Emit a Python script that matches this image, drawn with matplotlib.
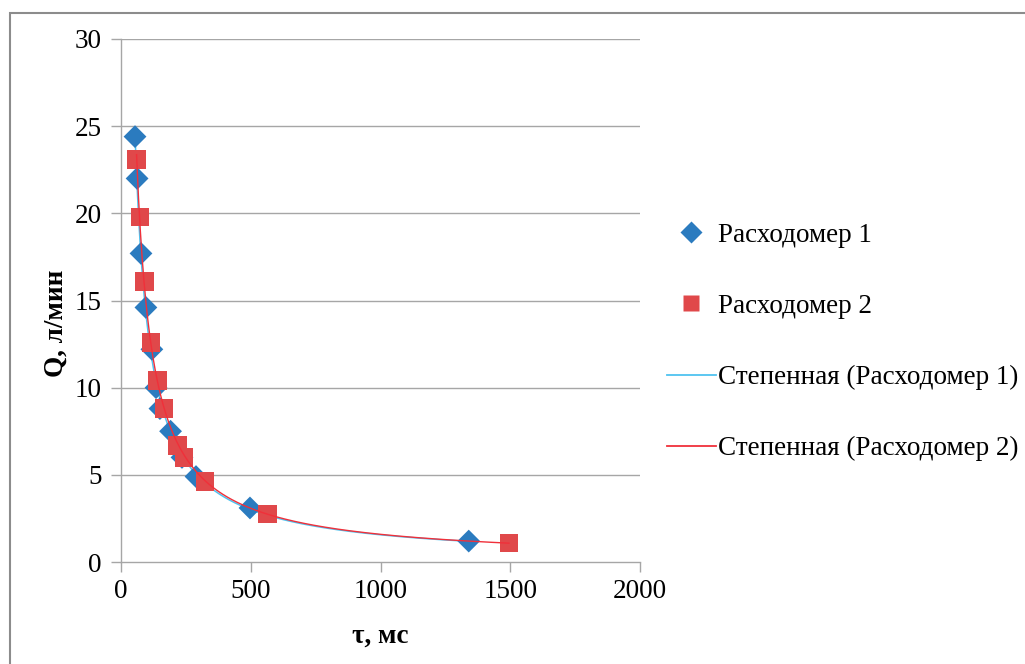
import numpy as np
import matplotlib
matplotlib.use("Agg")
import matplotlib.pyplot as plt
from matplotlib.lines import Line2D
from matplotlib.patches import Rectangle

plt.rcParams["font.family"] = ["Liberation Serif", "DejaVu Serif"]

# ── data ──
tau_1 = [54, 62, 77, 96, 119, 135, 150, 191, 235, 289, 497, 1340]
q_1 = [24.4, 22.0, 17.7, 14.6, 12.2, 10.0, 8.8, 7.5, 6.0, 4.9, 3.1, 1.2]
tau_2 = [60, 73, 90, 116, 140, 166, 217, 243, 324, 565, 1495]
q_2 = [23.1, 19.8, 16.1, 12.6, 10.4, 8.8, 6.7, 6.0, 4.6, 2.75, 1.1]

labels = ["Расходомер 1", "Расходомер 2",
          "Степенная (Расходомер 1)", "Степенная (Расходомер 2)"]
x_ticks = [0, 500, 1000, 1500, 2000]
y_ticks = [0, 5, 10, 15, 20, 25, 30]

BLUE = "#2b7bbf"
RED = "#e0484a"
TREND_BLUE = "#4fc3f0"
TREND_RED = "#f0303a"
GRID = "#a6a6a6"
FS = 19.5


def power_fit(x, y):
    # Excel-style power trendline: least squares in log-log space
    b, ln_a = np.polyfit(np.log(x), np.log(y), 1)
    xs = np.linspace(min(x), max(x), 400)
    return xs, np.exp(ln_a) * xs ** b


fig = plt.figure(figsize=(10.25, 6.64), dpi=100)
ax = fig.add_axes([121 / 1025, 1 - 562 / 664, 519 / 1025, 523 / 664])

# frame around the chart area (top + left visible in the reference)
fig.add_artist(Rectangle((10 / 1025, -0.05), 1.2, 1 - 12.5 / 664 + 0.05,
                         transform=fig.transFigure, fill=False,
                         edgecolor="#8c8c8c", lw=1.5))

for yv in y_ticks[1:]:
    ax.axhline(yv, color=GRID, lw=1.0, zorder=0)

xs1, ys1 = power_fit(tau_1, q_1)
xs2, ys2 = power_fit(tau_2, q_2)
ax.plot(xs1, ys1, color=TREND_BLUE, lw=1.1, zorder=2)
ax.plot(xs2, ys2, color=TREND_RED, lw=1.0, zorder=4)

ax.scatter(tau_1, q_1, marker="D", s=135, color=BLUE, edgecolors="none", zorder=3)
ax.scatter(tau_2, q_2, marker="s", s=180, color=RED, edgecolors="none", zorder=3)

ax.set_xlim(0, 2000)
ax.set_ylim(0, 30)
ax.set_xticks(x_ticks)
ax.set_yticks(y_ticks)
ax.tick_params(axis="both", labelsize=FS, color=GRID, length=7, width=1,
               direction="out", pad=5)
ax.tick_params(axis="y", pad=7)
for sp in ("top", "right"):
    ax.spines[sp].set_visible(False)
for sp in ("left", "bottom"):
    ax.spines[sp].set_color(GRID)
    ax.spines[sp].set_linewidth(1.0)

ax.set_xlabel("τ, мс", fontsize=FS, fontweight="bold")
ax.set_ylabel("Q, л/мин", fontsize=FS, fontweight="bold")
ax.xaxis.set_label_coords(0.5, -0.118)
ax.yaxis.set_label_coords(-0.1, 0.457)

handles = [
    Line2D([], [], ls="none", marker="D", ms=11, color=BLUE, mec="none"),
    Line2D([], [], ls="none", marker="s", ms=11.5, color=RED, mec="none"),
    Line2D([], [], color=TREND_BLUE, lw=1.3),
    Line2D([], [], color=TREND_RED, lw=1.3),
]
fig.legend(handles, labels, loc="center left",
           bbox_to_anchor=(656 / 1025, 1 - 342 / 664), frameon=False,
           fontsize=FS, handlelength=1.8, handletextpad=0.1,
           labelspacing=1.7, borderaxespad=0)

fig.savefig("out.png", dpi=100, facecolor="white")
